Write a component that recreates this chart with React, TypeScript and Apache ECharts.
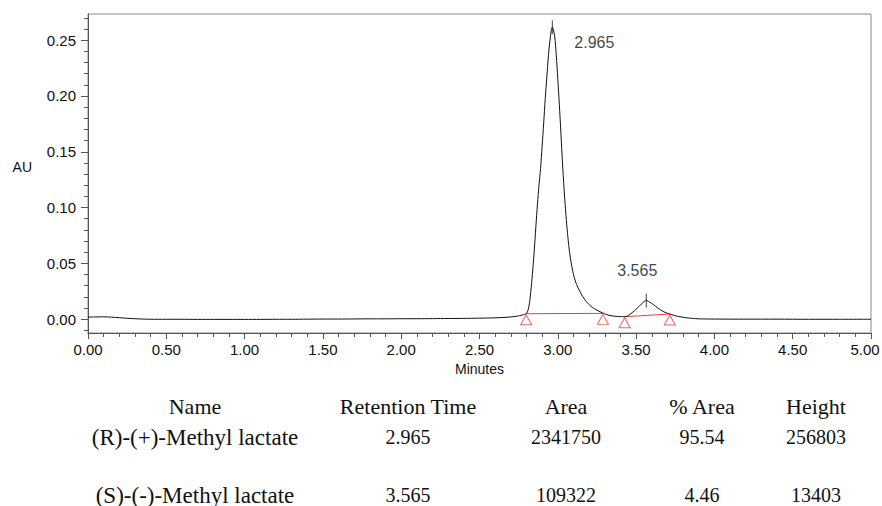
import React, { useEffect, useRef } from "react";
import * as echarts from "echarts";

// Detector trace: [retention time (min), absorbance (AU)]
const chromatogram: [number, number][] = [
  [0.0, 0.0018], [0.05, 0.0019], [0.1, 0.002], [0.15, 0.0017], [0.2, 0.0012],
  [0.25, 0.0007], [0.3, 0.0003], [0.35, 0.0], [0.4, -0.0002], [0.5, -0.0002],
  [0.6, -0.0002], [0.7, -0.0003], [0.8, -0.0003], [0.9, -0.0003], [1.0, -0.0003],
  [1.1, -0.0003], [1.2, -0.0002], [1.3, -0.0002], [1.4, -0.0001], [1.5, 0.0],
  [1.6, 0.0], [1.7, 0.0001], [1.8, 0.0002], [1.9, 0.0002], [2.0, 0.0003],
  [2.1, 0.0003], [2.2, 0.0004], [2.3, 0.0005], [2.4, 0.0006], [2.5, 0.0008],
  [2.6, 0.0011], [2.65, 0.0014], [2.7, 0.0019], [2.74, 0.0026], [2.77, 0.0035],
  [2.79, 0.0043], [2.8, 0.005], [2.81, 0.008], [2.82, 0.015], [2.83, 0.028],
  [2.84, 0.044], [2.85, 0.062], [2.86, 0.083], [2.87, 0.103], [2.88, 0.12],
  [2.89, 0.135], [2.9, 0.155], [2.91, 0.176], [2.92, 0.198], [2.93, 0.217],
  [2.94, 0.236], [2.95, 0.25], [2.958, 0.2585], [2.965, 0.2617], [2.972, 0.2592],
  [2.98, 0.254], [2.99, 0.237], [3.0, 0.215], [3.01, 0.192], [3.02, 0.166],
  [3.03, 0.14], [3.04, 0.117], [3.05, 0.097], [3.06, 0.08], [3.07, 0.066],
  [3.08, 0.055], [3.09, 0.047], [3.1, 0.04], [3.11, 0.035], [3.12, 0.031],
  [3.14, 0.025], [3.16, 0.02], [3.18, 0.016], [3.2, 0.013], [3.22, 0.0105],
  [3.25, 0.008], [3.29, 0.0052], [3.32, 0.0036], [3.36, 0.0026], [3.4, 0.0022],
  [3.43, 0.0021], [3.46, 0.0042], [3.49, 0.0075], [3.52, 0.0115], [3.545, 0.015],
  [3.565, 0.0167], [3.585, 0.0153], [3.61, 0.013], [3.64, 0.0098], [3.67, 0.007],
  [3.7, 0.0052], [3.72, 0.0043], [3.75, 0.003], [3.78, 0.0021], [3.82, 0.0012],
  [3.86, 0.0006], [3.9, 0.0002], [4.0, 0.0], [4.2, -0.0001], [4.4, -0.0001],
  [4.6, -0.0002], [4.8, -0.0002], [5.0, -0.0002],
];

// Integration baselines (start / end of each peak)
const peakStarts: [number, number][] = [[2.798, 0.0048], [3.427, 0.0021]];
const peakEnds: [number, number][] = [[3.288, 0.0051], [3.715, 0.0045]];

// Peak table
const compoundNames = ["(R)-(+)-Methyl lactate", "(S)-(-)-Methyl lactate"];
const retentionTimes = [2.965, 3.565];
const apexAU = [0.2617, 0.0167];
const areas = [2341750, 109322];
const percentAreas = [95.54, 4.46];
const heights = [256803, 13403];
const tableHeaders = ["Name", "Retention Time", "Area", "% Area", "Height"];

// Axis ticks
const yLabelTicks = [0, 0.05, 0.1, 0.15, 0.2, 0.25];
const yMinorTicks = [
  -0.01, 0.01, 0.02, 0.03, 0.04, 0.06, 0.07, 0.08, 0.09, 0.11, 0.12, 0.13, 0.14,
  0.16, 0.17, 0.18, 0.19, 0.21, 0.22, 0.23, 0.24, 0.26, 0.27,
];
const X_MAX = 5;

const SANS = '"Liberation Sans", Arial, sans-serif';
const SERIF = '"Liberation Serif", "Times New Roman", serif';
const AXIS_COLOR = "#555";
const RED = "#e8403a";

export default function App() {
  const ref = useRef<HTMLDivElement>(null);

  useEffect(() => {
    if (!ref.current) return;
    const chart = echarts.init(ref.current, undefined, { renderer: "svg" });

    const baselineData: any[] = [];
    peakStarts.forEach((s, i) => {
      if (i > 0) baselineData.push([(peakEnds[i - 1][0] + s[0]) / 2, "-"]);
      baselineData.push(s, peakEnds[i]);
    });

    const colX = [195, 408, 566, 702, 816];
    const rowY = [406, 437, 495];
    const rows: string[][] = [
      tableHeaders,
      ...compoundNames.map((n, i) => [
        n,
        retentionTimes[i].toFixed(3),
        String(areas[i]),
        percentAreas[i].toFixed(2),
        String(heights[i]),
      ]),
    ];
    const tableText: any[] = [];
    rows.forEach((row, r) =>
      row.forEach((cell, c) => {
        const isNumber = r > 0 && c > 0;
        const size = isNumber ? 20 : r > 0 ? 23 : 22;
        tableText.push({
          type: "text",
          x: colX[c],
          y: rowY[r],
          silent: true,
          style: {
            text: cell,
            fontFamily: SERIF,
            fontSize: size,
            fill: "#111",
            align: "center",
            verticalAlign: "middle",
          },
        });
      })
    );

    const yMin = -0.0125;
    const yMax = 0.2735;

    chart.setOption({
      animation: false,
      backgroundColor: "#fff",
      grid: {
        left: 88,
        right: 11,
        top: 14,
        bottom: 173,
        containLabel: false,
        outerBoundsMode: "none",
        show: true,
        borderColor: "#8a8a8a",
        borderWidth: 1,
        backgroundColor: "transparent",
      },
      xAxis: {
        type: "value",
        min: 0,
        max: X_MAX,
        interval: 0.5,
        name: "Minutes",
        nameLocation: "middle",
        nameGap: 28,
        nameTextStyle: { fontFamily: SANS, fontSize: 14, color: "#111" },
        axisLine: { show: true, onZero: false, lineStyle: { color: AXIS_COLOR } },
        axisTick: { show: true, length: 6, lineStyle: { color: AXIS_COLOR } },
        minorTick: { show: true, splitNumber: 5, length: 4, lineStyle: { color: AXIS_COLOR } },
        axisLabel: {
          margin: 9,
          fontFamily: SANS,
          fontSize: 15,
          color: "#111",
          formatter: (v: number) =>
            v === X_MAX ? `{edge|${v.toFixed(2)}}` : v.toFixed(2),
          rich: {
            edge: {
              fontFamily: SANS,
              fontSize: 15,
              color: "#111",
              padding: [0, 12, 0, 0],
            },
          },
        },
        splitLine: { show: false },
        minorSplitLine: { show: false },
      },
      yAxis: [
        {
          type: "value",
          min: yMin,
          max: yMax,
          position: "left",
          name: "AU",
          nameLocation: "middle",
          nameRotate: 0,
          nameGap: 56,
          nameTextStyle: {
            fontFamily: SANS,
            fontSize: 14,
            color: "#111",
            verticalAlign: "bottom",
          },
          axisLine: { show: true, onZero: false, lineStyle: { color: AXIS_COLOR } },
          axisTick: { show: true, customValues: yLabelTicks, length: 7, lineStyle: { color: AXIS_COLOR } },
          axisLabel: {
            customValues: yLabelTicks,
            margin: 12,
            fontFamily: SANS,
            fontSize: 15,
            color: "#111",
            formatter: (v: number) => v.toFixed(2),
          },
          splitLine: { show: false },
        },
        {
          type: "value",
          min: yMin,
          max: yMax,
          position: "left",
          axisLine: { show: false, onZero: false },
          axisTick: { show: true, customValues: yMinorTicks, length: 4, lineStyle: { color: AXIS_COLOR } },
          axisLabel: { show: false },
          splitLine: { show: false },
        },
      ],
      series: [
        {
          type: "line",
          data: chromatogram,
          showSymbol: false,
          smooth: 0.3,
          lineStyle: { color: "#111", width: 1 },
          silent: true,
          z: 3,
        },
        {
          type: "line",
          data: baselineData,
          showSymbol: false,
          connectNulls: false,
          lineStyle: { color: RED, width: 1 },
          silent: true,
          z: 2,
        },
        {
          type: "scatter",
          data: [...peakStarts, ...peakEnds],
          symbol: "triangle",
          symbolSize: [11, 10],
          symbolOffset: [0, 6],
          itemStyle: { color: "rgba(0,0,0,0)", borderColor: RED, borderWidth: 1 },
          silent: true,
          z: 4,
        },
        {
          type: "scatter",
          data: retentionTimes.map((t, i) => ({
            value: [t, apexAU[i]],
            label: {
              offset: i === 0 ? [42, 15] : [-9, -30],
            },
          })),
          symbol: "rect",
          symbolSize: [1, 14],
          itemStyle: { color: "#111" },
          label: {
            show: true,
            position: "inside",
            fontFamily: SANS,
            fontSize: 16,
            color: "#111",
            formatter: (p: any) => p.value[0].toFixed(3),
          },
          silent: true,
          z: 5,
        },
      ],
      graphic: tableText,
    });

    return () => chart.dispose();
  }, []);

  return (
    <div
      ref={ref}
      style={{ position: "fixed", left: 0, top: 0, width: 882, height: 506 }}
    />
  );
}
